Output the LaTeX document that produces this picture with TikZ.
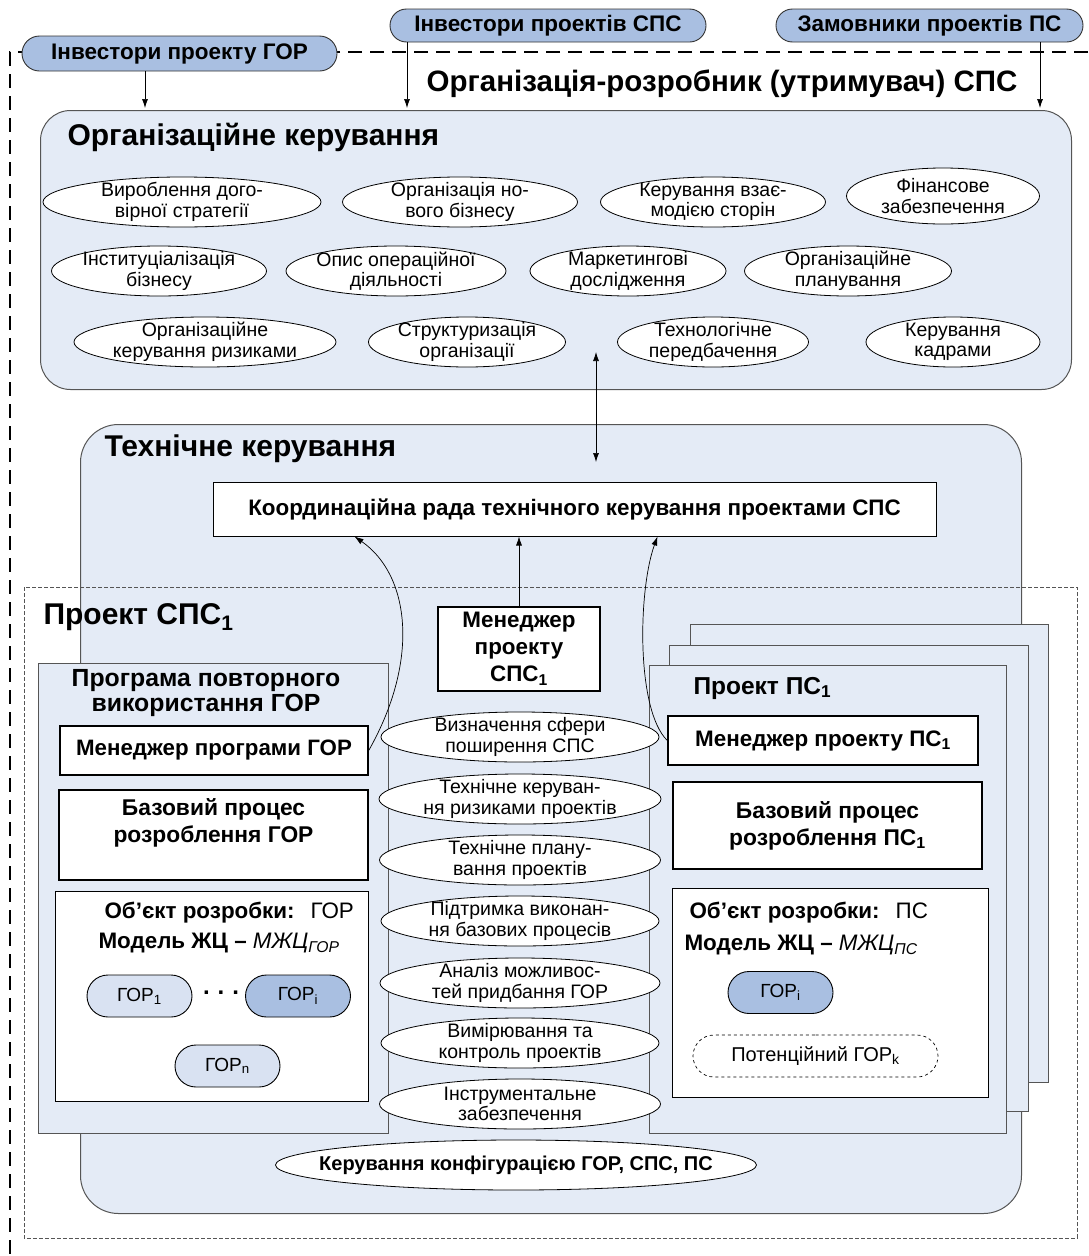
\documentclass[tikz,border=0pt]{standalone}
\usepackage{fontspec}
\setmainfont{Liberation Sans}
\usetikzlibrary{shapes.geometric,shapes.misc,arrows.meta,positioning}
\definecolor{PanelBlue}{HTML}{E4EBF6}
\definecolor{PillBlue}{HTML}{A9BFE1}
\definecolor{PillLight}{HTML}{D9E2F2}
\definecolor{EdgeGray}{HTML}{555555}

\tikzset{
  outerline/.style={line width=1.4pt, dash pattern=on 14pt off 8pt},
  projline/.style={draw=EdgeGray, line width=0.8pt, dash pattern=on 4pt off 2pt},
  panel/.style={draw=EdgeGray, fill=PanelBlue, line width=1pt, inner sep=0pt},
  roundpanel/.style={panel, rounded corners=34pt},
  pill/.style={rounded rectangle, draw=black!80, fill=PillBlue, line width=0.9pt, inner sep=0pt,
    font=\bfseries\fontsize{22.5}{24}\selectfont},
  gorpill/.style={rounded rectangle, draw, fill=PillLight, line width=0.9pt, inner sep=0pt,
    minimum width=105pt, minimum height=42pt, font=\fontsize{19}{21}\selectfont},
  oval/.style={ellipse, draw, fill=white, line width=0.8pt, inner sep=0pt, minimum height=50pt,
    label={[align=center, font=\fontsize{19.5}{20.5}\selectfont]center:{#1}}},
  wbox/.style={draw, fill=white, line width=1.4pt, inner sep=0pt},
  heading/.style={anchor=west, font=\bfseries\fontsize{30}{32}\selectfont},
  boxtext/.style={align=center, font=\bfseries\fontsize{22.8}{27}\selectfont},
  objtext/.style={anchor=west, font=\fontsize{22.4}{24}\selectfont},
  arr/.style={-{Latex[length=9pt,width=6pt]}, line width=0.7pt},
}

\begin{document}
\begin{tikzpicture}[x=1pt, y=-1pt]
  \useasboundingbox (0,0) rectangle (1088,1256);

  % outer border of the organisation
  \draw[outerline] (1088,52) -- (10,52) -- (10,1256);

  % investors and customers
  \node[pill, minimum width=315pt, minimum height=35pt] (invGOR) at (179.5,53.5) {Інвестори проекту ГОР};
  \node[pill, minimum width=316pt, minimum height=33pt] (invSPS) at (548,25.5) {Інвестори проектів СПС};
  \node[pill, minimum width=307pt, minimum height=33pt] (custPS) at (929.5,25.5) {Замовники проектів ПС};
  \node[anchor=center, font=\bfseries\fontsize{29.5}{31}\selectfont] (orgTitle) at (722,84) {Організація-розробник (утримувач) СПС};

  % organisational management
  \node[roundpanel, rounded corners=30pt, anchor=north west, minimum width=1031pt, minimum height=279pt] (org) at (40,110) {};
  \node[heading] (orgT) at (64,137) {Організаційне керування};

  \coordinate (gA) at ([xshift=-34.5pt]invGOR.south);
  \coordinate (sA) at ([xshift=-141pt]invSPS.south);
  \coordinate (pA) at ([xshift=110.5pt]custPS.south);
  \draw[arr, shorten >=2pt] (gA) -- (gA |- org.north);
  \draw[arr, shorten >=2pt] (sA) -- (sA |- org.north);
  \draw[arr, shorten >=2pt] (pA) -- (pA |- org.north);

  \node[oval={Вироблення дого-\\вірної стратегії}, minimum width=278pt] (o1) at (182,202) {};
  \node[oval={Організація но-\\вого бізнесу}, minimum width=235pt] (o2) at (460,202) {};
  \node[oval={Керування взає-\\модією сторін}, minimum width=225pt] (o3) at (713,202) {};
  \node[oval={Фінансове\\забезпечення}, minimum width=193pt, minimum height=56pt] (o4) at (943,196) {};
  \node[oval={Інституціалізація\\бізнесу}, minimum width=215pt] (o5) at (159,271) {};
  \node[oval={Опис операційної\\діяльності}, minimum width=220pt] (o6) at (396,271) {};
  \node[oval={Маркетингові\\дослідження}, minimum width=196pt] (o7) at (628,271) {};
  \node[oval={Організаційне\\планування}, minimum width=207pt] (o8) at (848,271) {};
  \node[oval={Організаційне\\керування ризиками}, minimum width=262pt] (o9) at (205,342) {};
  \node[oval={Структуризація\\організації}, minimum width=197pt] (o10) at (467,342) {};
  \node[oval={Технологічне\\передбачення}, minimum width=191pt] (o11) at (713,342) {};
  \node[oval={Керування\\кадрами}, minimum width=174pt] (o12) at (953,342) {};

  % technical management
  \node[roundpanel, rounded corners=38pt, anchor=north west, minimum width=941pt, minimum height=789pt] (tech) at (80,424) {};
  \node[heading] (techT) at (101,449) {Технічне керування};
  \node[wbox, line width=1pt, minimum width=723pt, minimum height=54pt, font=\bfseries\fontsize{22.4}{24}\selectfont] (coord) at (574.5,509) {Координаційна рада технічного керування проектами СПС};

  \coordinate (orgP) at (596,352);
  \coordinate (techP) at (596,462);
  \draw[{Latex[length=9pt,width=6pt]}-{Latex[length=9pt,width=6pt]}, line width=0.7pt] (orgP) -- (techP);

  % project of the product line
  \draw[projline] (24,587) rectangle (1077,1238);
  \node[heading] (projT) at (40,617) {Проект СПС\textsubscript{1}};
  \node[wbox, minimum width=162pt, minimum height=84pt, boxtext, font=\bfseries\fontsize{22.4}{27}\selectfont] (mgrSPS) at (519,649) {Менеджер\\проекту\\СПС\textsubscript{1}};

  % reuse programme
  \node[panel, anchor=north west, minimum width=350pt, minimum height=470pt] (prog) at (38,663) {};
  \node[boxtext, font=\bfseries\fontsize{24.8}{25}\selectfont] (progT) at (206,693) {Програма повторного\\використання ГОР};
  \node[wbox, minimum width=308pt, minimum height=49pt, font=\bfseries\fontsize{22.3}{24}\selectfont] (mgrGOR) at (214,750.5) {Менеджер програми ГОР};
  \node[wbox, minimum width=309pt, minimum height=90pt] (baseGOR) at (213.5,835) {};
  \node[boxtext] (baseGORt) at (213.5,823) {Базовий процес\\розроблення ГОР};
  \node[wbox, line width=1pt, minimum width=313pt, minimum height=210pt] (objGOR) at (211.5,996) {};
  \node[objtext] (objGOR1) at (101,913) {\textbf{Об’єкт розробки:}\hspace{16pt}ГОР};
  \node[objtext] (objGOR2) at (95,943) {\textbf{Модель ЖЦ} \textbf{–} \textit{МЖЦ\textsubscript{ГОР}}};
  \node[gorpill] (gor1) at (139.5,996) {ГОР\textsubscript{1}};
  \node[gorpill, fill=PillBlue] (gori) at (298,996) {ГОР\textsubscript{i}};
  \node[font=\bfseries\fontsize{24}{26}\selectfont] (dots) at (221,993) {.\,\,.\,\,.};
  \node[gorpill] (gorn) at (227.5,1066) {ГОР\textsubscript{n}};

  % product projects
  \node[panel, anchor=north west, minimum width=358pt, minimum height=458pt] (page3) at (690,624) {};
  \node[panel, anchor=north west, minimum width=359pt, minimum height=466pt] (page2) at (669,645) {};
  \node[panel, anchor=north west, minimum width=357pt, minimum height=468pt] (page1) at (649,665) {};
  \node[heading, font=\bfseries\fontsize{24.5}{26}\selectfont] (psT) at (690,688) {Проект ПС\textsubscript{1}};
  \node[wbox, minimum width=310pt, minimum height=49pt, font=\bfseries\fontsize{22.4}{24}\selectfont] (mgrPS) at (823,740.5) {Менеджер проекту ПС\textsubscript{1}};
  \node[wbox, minimum width=309pt, minimum height=87pt, boxtext] (basePS) at (827.5,825.5) {Базовий процес\\розроблення ПС\textsubscript{1}};
  \node[wbox, line width=1pt, minimum width=316pt, minimum height=209pt] (objPS) at (830,992.5) {};
  \node[objtext] (objPS1) at (686,913) {\textbf{Об’єкт розробки:}\hspace{16pt}ПС};
  \node[objtext] (objPS2) at (681,945) {\textbf{Модель ЖЦ} \textbf{–} \textit{МЖЦ\textsubscript{ПС}}};
  \node[gorpill, fill=PillBlue] (gorPS) at (780.5,992.5) {ГОР\textsubscript{i}};
  \node[gorpill, fill=white, dashed, line width=0.7pt, minimum width=245pt, font=\fontsize{20}{22}\selectfont] (potGOR) at (815.5,1056) {Потенційний ГОР\textsubscript{k}};

  % technical processes
  \node[oval={Визначення сфери\\поширення СПС}, minimum width=278pt] (t1) at (520,737) {};
  \node[oval={Технічне керуван-\\ня ризиками проектів}, minimum width=282pt] (t2) at (520,799) {};
  \node[oval={Технічне плану-\\вання проектів}, minimum width=281pt] (t3) at (520,860) {};
  \node[oval={Підтримка виконан-\\ня базових процесів}, minimum width=278pt] (t4) at (520,921) {};
  \node[oval={Аналіз можливос-\\тей придбання ГОР}, minimum width=280pt] (t5) at (520,983) {};
  \node[oval={Вимірювання та\\контроль проектів}, minimum width=278pt] (t6) at (520,1043) {};
  \node[oval={Інструментальне\\забезпечення}, minimum width=281pt] (t7) at (520,1104) {};
  \node[ellipse, draw, fill=white, line width=0.8pt, minimum width=481pt, minimum height=50pt, inner sep=0pt,
    label={[font=\bfseries\fontsize{20}{22}\selectfont]center:{Керування конфігурацією ГОР, СПС, ПС}}] (cfg) at (516,1165) {};

  % reports to the council
  \draw[arr] (mgrSPS.north) -- (mgrSPS.north |- coord.south);
  \draw[arr] (mgrGOR.east) .. controls (420,660) and (410,575) .. ([xshift=142pt]coord.south west);
  \draw[arr] (mgrPS.west) .. controls (636,710) and (638,590) .. ([xshift=445pt]coord.south west);
\end{tikzpicture}
\end{document}
